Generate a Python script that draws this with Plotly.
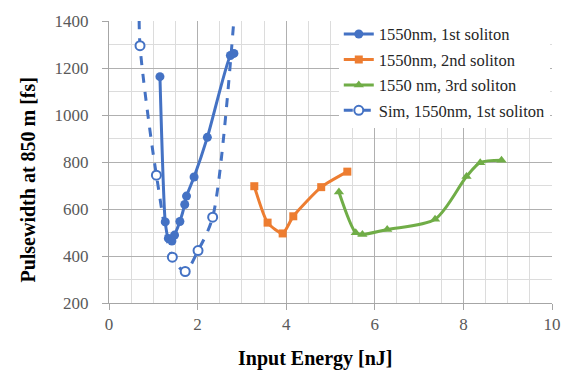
import plotly.graph_objects as go

# Data
s1_x = [1.15, 1.27, 1.34, 1.42, 1.48, 1.60, 1.71, 1.75, 1.92, 2.22, 2.74, 2.82]
s1_y = [1163, 545, 475, 464, 489, 547, 619, 655, 736, 905, 1253, 1262]

s2_x = [3.28, 3.58, 3.92, 4.16, 4.79, 5.38]
s2_y = [697, 542, 496, 569, 693, 759]

s3_x = [5.19, 5.57, 5.72, 6.28, 7.36, 8.07, 8.38, 8.86]
s3_y = [672, 499, 492, 513, 556, 738, 797, 807]

sim_x = [0.68, 0.70, 1.07, 1.43, 1.72, 2.01, 2.34, 2.85]
sim_y = [1480, 1295, 744, 395, 334, 423, 565, 1480]

names = ["1550nm, 1st soliton", "1550nm, 2nd soliton", "1550 nm, 3rd soliton", "Sim, 1550nm, 1st soliton"]
x_ticks = [0, 2, 4, 6, 8, 10]
y_ticks = [200, 400, 600, 800, 1000, 1200, 1400]

BLUE = "#4472C4"
ORANGE = "#ED7D31"
GREEN = "#70AD47"
SERIF = "Liberation Serif"

fig = go.Figure()
fig.add_trace(go.Scatter(x=s1_x, y=s1_y, name=names[0], mode="lines+markers", legendgroup="a",
                         line=dict(color=BLUE, width=3, shape="spline", smoothing=0.6),
                         marker=dict(symbol="circle", size=9, color=BLUE)))
fig.add_trace(go.Scatter(x=s2_x, y=s2_y, name=names[1], mode="lines+markers", legendgroup="b",
                         line=dict(color=ORANGE, width=3, shape="spline", smoothing=0.6),
                         marker=dict(symbol="square", size=8, color=ORANGE)))
fig.add_trace(go.Scatter(x=s3_x, y=s3_y, name=names[2], mode="lines+markers", legendgroup="c",
                         line=dict(color=GREEN, width=3, shape="spline", smoothing=0.8),
                         marker=dict(symbol="triangle-up", size=9, color=GREEN)))
fig.add_trace(go.Scatter(x=sim_x, y=sim_y, name=names[3], mode="lines+markers", legendgroup="d",
                         line=dict(color=BLUE, width=3, dash="dash", shape="spline", smoothing=0.8),
                         marker=dict(symbol="circle", size=9, color="white", line=dict(color=BLUE, width=2)),
                         cliponaxis=True))

fig.update_layout(
    width=573, height=378,
    margin=dict(l=109, r=19, t=14, b=75),
    plot_bgcolor="white", paper_bgcolor="white",
    font=dict(family=SERIF, color="#595959"),
    legend=dict(x=0.995, xanchor="right", y=1.015, yanchor="top", bgcolor="white",
                font=dict(family=SERIF, size=16.5, color="#262626"),
                tracegroupgap=1, itemwidth=30),
    showlegend=True,
    annotations=[
        dict(text="<b>Input Energy [nJ]</b>", xref="paper", yref="paper", x=0.465, y=-0.197,
             showarrow=False, font=dict(family=SERIF, size=20, color="#000000"),
             xanchor="center", yanchor="middle"),
        dict(text="<b>Pulsewidth at 850 m [fs]</b>", xref="paper", yref="paper", x=-0.182, y=0.439,
             showarrow=False, textangle=-90, font=dict(family=SERIF, size=20, color="#000000"),
             xanchor="center", yanchor="middle"),
    ],
)
fig.update_xaxes(range=[0, 10], tickvals=x_ticks, showgrid=True, gridcolor="#b0b0b0", gridwidth=1,
                 minor=dict(dtick=0.5, showgrid=True, gridcolor="#dcdcdc", ticks=""),
                 showline=True, linecolor="#a6a6a6", linewidth=1, ticks="outside", ticklen=6,
                 tickcolor="#a6a6a6", tickfont=dict(family=SERIF, size=17, color="#595959"),
                 zeroline=False, mirror=False)
fig.update_yaxes(range=[200, 1400], tickvals=y_ticks, showgrid=True, gridcolor="#b0b0b0", gridwidth=1,
                 minor=dict(dtick=100, showgrid=True, gridcolor="#dcdcdc", ticks=""),
                 showline=True, linecolor="#a6a6a6", linewidth=1, ticks="outside", ticklen=6,
                 tickcolor="#a6a6a6", tickfont=dict(family=SERIF, size=17, color="#595959"),
                 zeroline=False, ticklabelstandoff=10)

fig.write_html("out.html")
